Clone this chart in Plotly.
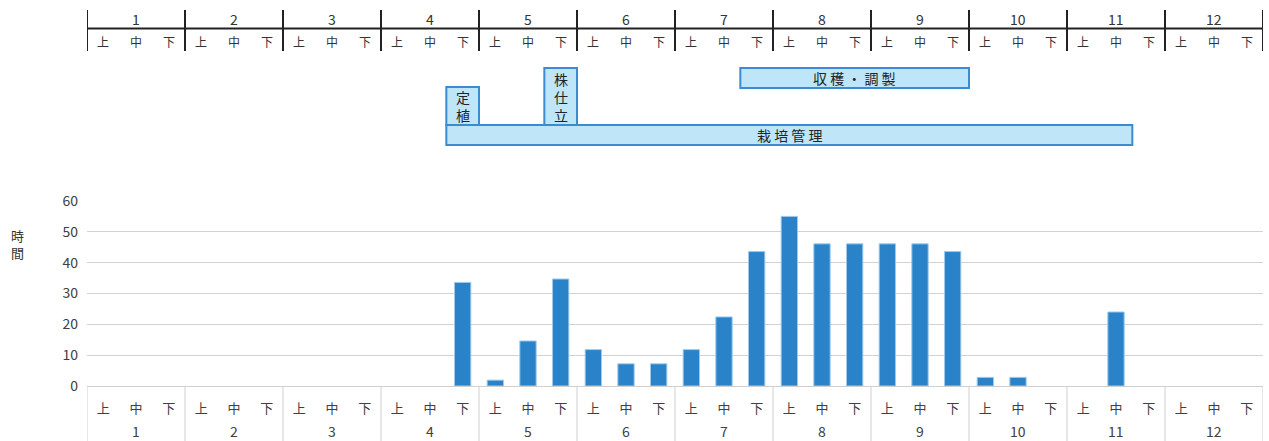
import plotly.graph_objects as go

# ---- data ----
months = [str(m) for m in range(1, 13)]
periods = ["上", "中", "下"]
hours = [
    0, 0, 0,        # 1
    0, 0, 0,        # 2
    0, 0, 0,        # 3
    0, 0, 33.6,     # 4
    1.9, 14.6, 34.7,  # 5
    11.8, 7.2, 7.2,   # 6
    11.8, 22.4, 43.6,  # 7
    55.0, 46.1, 46.1,  # 8
    46.1, 46.1, 43.6,  # 9
    2.8, 2.8, 0,    # 10
    0, 24.0, 0,     # 11
    0, 0, 0,        # 12
]
y_title = "時<br>間"
y_ticks = [0, 10, 20, 30, 40, 50, 60]

# work tasks: (label, first slot index, last slot index)
task_names = ["定<br>植", "株<br>仕<br>立", "収 穫 ・ 調 製", "栽 培 管 理"]
task_start = [11, 14, 20, 11]
task_end = [11, 14, 26, 31]
# vertical placement of each task box (pixel rows of the schedule panel)
task_top = [87, 68, 68, 125]
task_bottom = [125, 125, 88, 145]

W, H = 1269, 441
ML, MR = 87, 6
AXIS_Y, TOP_Y = 386, 201  # pixel rows of value 0 and value 60

FONT = "Noto Sans CJK JP, Noto Sans, sans-serif"
BAR = "#2a83c8"
BOX_FILL = "#bee5f8"
BOX_LINE = "#3a8bcf"

slot_labels = [p for _ in months for p in periods]
n = len(hours)
slots = list(range(n))

fig = go.Figure()
fig.add_trace(go.Bar(
    x=slots, y=hours,
    marker=dict(color=BAR,
                line=dict(color="#9ccaee", width=[1 if v > 0 else 0 for v in hours])),
    width=0.5, xaxis="x", yaxis="y", showlegend=False,
))

shapes = []
annotations = []

# ---- header table (month / 上中下) ----
shapes.append(dict(type="line", xref="x2", yref="y2", x0=-0.5, x1=n - 0.5,
                   y0=28.5, y1=28.5, line=dict(color="#222", width=2)))
for k in range(len(months) + 1):
    xv = -0.5 + 3 * k
    shapes.append(dict(type="line", xref="x2", yref="y2", x0=xv, x1=xv,
                       y0=10, y1=51, line=dict(color="#222", width=2)))
for k, m in enumerate(months):
    annotations.append(dict(x=3 * k + 1, y=19, xref="x2", yref="y2", text=m,
                            showarrow=False, font=dict(size=14, color="#333", family=FONT)))
for i in range(n):
    annotations.append(dict(x=i, y=41, xref="x2", yref="y2", text=slot_labels[i],
                            showarrow=False, font=dict(size=12, color="#333", family=FONT)))

# ---- task boxes ----
for name, s, e, t, b in zip(task_names, task_start, task_end, task_top, task_bottom):
    shapes.append(dict(type="rect", xref="x2", yref="y2", x0=s - 0.5, x1=e + 0.5,
                       y0=t, y1=b, fillcolor=BOX_FILL, line=dict(color=BOX_LINE, width=2)))
    annotations.append(dict(x=(s + e) / 2, y=(t + b) / 2, xref="x2", yref="y2", text=name,
                            showarrow=False, font=dict(size=14, color="#222", family=FONT)))

# ---- bottom category dividers and month labels ----
for k in range(len(months) + 1):
    xv = -0.5 + 3 * k
    shapes.append(dict(type="line", xref="x2", yref="y2", x0=xv, x1=xv,
                       y0=AXIS_Y, y1=H + 5, line=dict(color="#cfcfcf", width=1)))
for k, m in enumerate(months):
    annotations.append(dict(x=3 * k + 1, y=431, xref="x2", yref="y2", text=m,
                            showarrow=False, font=dict(size=14, color="#404040", family=FONT)))

# y-axis title
annotations.append(dict(x=(17 - ML) / (W - ML - MR), y=(H - 244) / H, xref="paper", yref="paper",
                        xanchor="center", yanchor="middle",
                        text=y_title, showarrow=False,
                        font=dict(size=13, color="#333", family=FONT)))

fig.update_layout(
    width=W, height=H,
    margin=dict(l=ML, r=MR, t=0, b=0, autoexpand=False),
    paper_bgcolor="white", plot_bgcolor="rgba(0,0,0,0)",
    xaxis=dict(domain=[0, 1], anchor="y", range=[-0.5, n - 0.5],
               tickvals=slots, ticktext=slot_labels,
               showline=True, linecolor="#cfcfcf", linewidth=1,
               showgrid=False, zeroline=False, ticks="", ticklabelstandoff=10,
               automargin=False,
               tickfont=dict(size=13, color="#404040", family=FONT)),
    yaxis=dict(domain=[(H - AXIS_Y) / H, (H - TOP_Y) / H], range=[0, 60], tickvals=y_ticks,
               showgrid=True, gridcolor="#d2d2d2", gridwidth=1, zeroline=False,
               showline=False, ticks="", ticklabelstandoff=8, automargin=False,
               tickfont=dict(size=14, color="#404040", family=FONT)),
    xaxis2=dict(domain=[0, 1], range=[-0.5, n - 0.5], anchor="y2", visible=False),
    yaxis2=dict(domain=[0, 1], range=[H, 0], anchor="x2", visible=False),
    shapes=shapes, annotations=annotations,
)

fig.write_html("out.html")
